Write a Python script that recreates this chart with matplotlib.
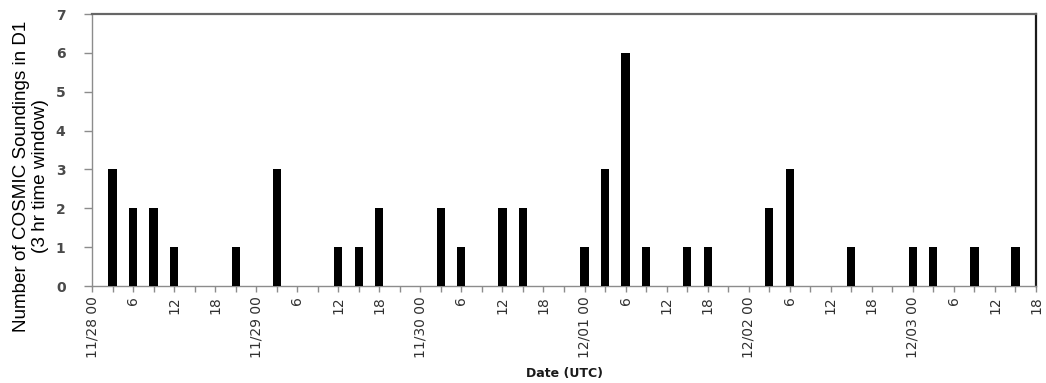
import numpy as np
import matplotlib
matplotlib.use("Agg")
import matplotlib.pyplot as plt

# COSMIC soundings counted in each 3 hr window, starting 11/28 00 UTC
window_hours = 3
counts = [0, 3, 2, 2, 1, 0, 0, 1,      # 11/28
          0, 3, 0, 0, 1, 1, 2, 0,      # 11/29
          0, 2, 1, 0, 2, 2, 0, 0,      # 11/30
          1, 3, 6, 1, 0, 1, 1, 0,      # 12/01
          0, 2, 3, 0, 0, 1, 0, 0,      # 12/02
          1, 1, 0, 1, 0, 1]            # 12/03
days = ["11/28", "11/29", "11/30", "12/01", "12/02", "12/03"]
hour_labels = ["00", "6", "12", "18"]

y_max = 7
x_max = 138  # hours, 12/03 18 UTC

hours = np.arange(len(counts)) * window_hours

fig = plt.figure(figsize=(10.46, 3.83), dpi=100)
ax = fig.add_axes([92 / 1046, 1 - 286 / 383, 944 / 1046, 272 / 383])

ax.bar(hours, counts, width=1.2, color="black", align="center", zorder=3)

ax.set_xlim(0, x_max)
ax.set_ylim(0, y_max)

# ticks every 3 hr, labels every 6 hr with the date at 00
ax.set_xticks(np.arange(0, x_max + 1, 3), minor=True)
major = np.arange(0, x_max + 1, 6)
labels = []
for h in major:
    d, hh = divmod(int(h), 24)
    lab = hour_labels[hh // 6]
    labels.append(f"{days[d]} {lab}" if hh == 0 else lab)
ax.set_xticks(major)
ax.set_xticklabels(labels, rotation=90, ha="center", va="top",
                   fontsize=10, family="DejaVu Sans", color="#303030")
ax.tick_params(axis="x", which="both", direction="out", length=4.5,
               width=1, color="#8c8c8c", pad=3)

ax.set_yticks(range(0, y_max + 1))
ax.set_yticklabels([str(v) for v in range(0, y_max + 1)],
                   fontsize=10, fontweight="bold", family="DejaVu Sans",
                   color="#4a4a4a")
ax.tick_params(axis="y", direction="out", length=6, width=1,
               color="#8c8c8c", pad=13)

for side in ("left", "bottom"):
    ax.spines[side].set_color("#8c8c8c")
    ax.spines[side].set_linewidth(1)
ax.spines["top"].set_color("#666666")
ax.spines["top"].set_linewidth(1.6)
ax.spines["right"].set_color("#1a1a1a")
ax.spines["right"].set_linewidth(1.6)

fig.text(564 / 1046, 1 - 374 / 383, "Date (UTC)", ha="center", va="center",
         fontsize=9, fontweight="bold", family="DejaVu Sans", color="#1a1a1a")

fig.text(31 / 1046, 1 - 176.5 / 383,
         "Number of COSMIC Soundings in D1\n(3 hr time window)",
         rotation=90, ha="center", va="center", multialignment="center",
         fontsize=13.6, family="Liberation Sans", color="black",
         linespacing=1.1)

fig.savefig("out.png", dpi=100)
